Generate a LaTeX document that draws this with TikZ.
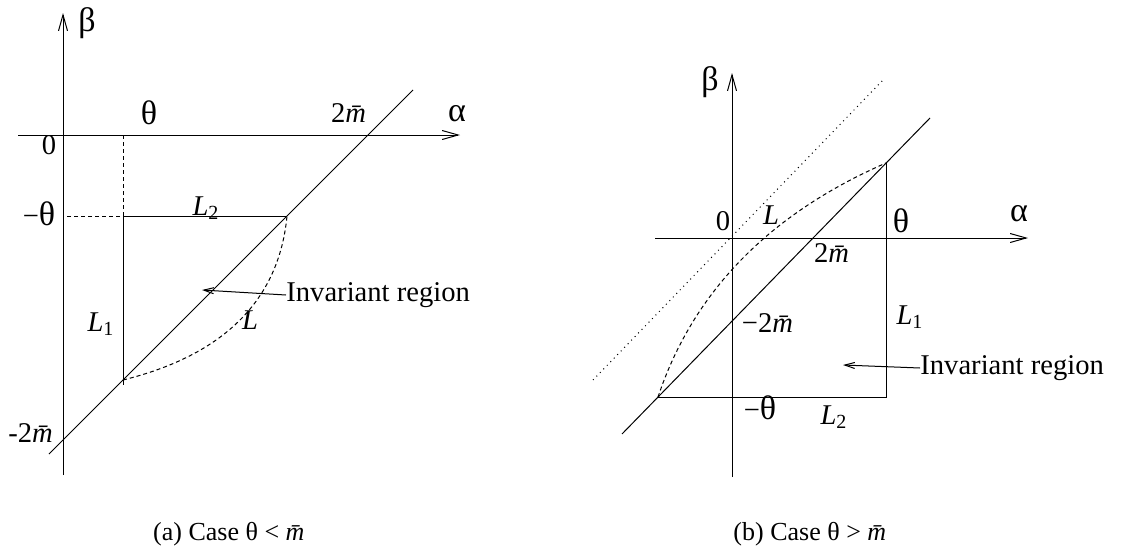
\documentclass[tikz,border=0pt]{standalone}
\usepackage{fontspec}
\setmainfont{Liberation Serif}
\usetikzlibrary{arrows.meta}
\newcommand{\mbar}{\textit{\=m}}
\newcommand{\Lsub}[1]{\textit{L}\textsubscript{#1}}
\newcommand{\gk}[1]{{\fontsize{17}{19}\selectfont #1}}

\begin{document}
\begin{tikzpicture}[
  x=0.5pt,y=-0.5pt,
  every node/.style={font=\fontsize{14.3}{16}\selectfont,inner sep=0pt},
  axis/.style={line width=0.5pt,-{Straight Barb[length=8pt,width=4.5pt]}},
  edge/.style={line width=0.5pt},
  guide/.style={line width=0.5pt,dash pattern=on 2pt off 1.5pt},
  slope/.style={line width=0.5pt,dotted},
  pointer/.style={line width=0.5pt,-{Straight Barb[length=5pt,width=3pt]}},
  caption/.style={font=\fontsize{13}{15}\selectfont}
]
  \useasboundingbox (0,0) rectangle (1124,552);
  % (a) case theta < mbar
  \coordinate (aYb) at (63,475);
  \coordinate (aYt) at (63,13);
  \coordinate (aXl) at (18,135);
  \coordinate (aXr) at (460,135);
  \coordinate (aDl) at (49,454);
  \coordinate (aDr) at (413,90);
  \coordinate (aT) at (123,135);
  \coordinate (aTm) at (63,216);
  \coordinate (aC) at (123,216);
  \coordinate (aP) at (287,216);
  \coordinate (aQ) at (123,380);
  \coordinate (aQe) at (123,385);
  \coordinate (aIn) at (202,290);
  \draw[axis] (aYb) -- (aYt);
  \draw[axis] (aXl) -- (aXr);
  \draw[edge] (aDl) -- (aDr);
  \draw[guide] (aT) -- (aC) -- (aTm);
  \draw[edge] (aP) -- (aC) -- (aQe);
  \draw[guide] (aQ) .. controls (224,355) and (279,300) .. (aP);
  \node (aBeta) at (87,23) {\gk{β}};
  \node (aAlpha) at (457,114) {\gk{α}};
  \node (aTheta) at (149,113) {\gk{θ}};
  \node (aTwoM) at (352,113) {2\mbar};
  \node (aZero) at (49,145) {0};
  \node (aMTheta) at (39,214) {−\gk{θ}};
  \node (aLtwo) at (206,208) {\Lsub{2}};
  \node (aLone) at (101,324) {\Lsub{1}};
  \node (aL) at (250,320) {\textit{L}};
  \node (aMTwoM) at (34,433) {-2\mbar};
  \node[anchor=west] (aInv) at (286,295) {Invariant region};
  \draw[pointer] (aInv.west) -- (aIn);
  \node[caption] (aCap) at (232,534) {(a) Case θ < \mbar};
  % (b) case theta > mbar
  \coordinate (bYb) at (732,477);
  \coordinate (bYt) at (732,73);
  \coordinate (bXl) at (655,238);
  \coordinate (bXr) at (1028,238);
  \coordinate (bDl) at (622,434);
  \coordinate (bDr) at (930,118);
  \coordinate (bSl) at (593,380);
  \coordinate (bSr) at (883,80);
  \coordinate (bP) at (886,163);
  \coordinate (bC) at (886,397);
  \coordinate (bQ) at (658,397);
  \coordinate (bIn) at (843,365);
  \draw[axis] (bYb) -- (bYt);
  \draw[axis] (bXl) -- (bXr);
  \draw[edge] (bDl) -- (bDr);
  \draw[slope] (bSl) -- (bSr);
  \draw[edge] (bP) -- (bC) -- (bQ);
  \draw[guide] (bQ) .. controls (693,292) and (769,214) .. (bP);
  \node (bBeta) at (710,82) {\gk{β}};
  \node (bAlpha) at (1019,214) {\gk{α}};
  \node (bZero) at (723,221) {0};
  \node (bL) at (771,215) {\textit{L}};
  \node (bTheta) at (901,221) {\gk{θ}};
  \node (bTwoM) at (835,253) {2\mbar};
  \node (bMTwoM) at (771,323) {−2\mbar};
  \node (bLone) at (910,317) {\Lsub{1}};
  \node (bMTheta) at (760,408) {−\gk{θ}};
  \node (bLtwo) at (834,417) {\Lsub{2}};
  \node[anchor=west] (bInv) at (920,368) {Invariant region};
  \draw[pointer] (bInv.west) -- (bIn);
  \node[caption] (bCap) at (813,534) {(b) Case θ > \mbar};
\end{tikzpicture}
\end{document}
